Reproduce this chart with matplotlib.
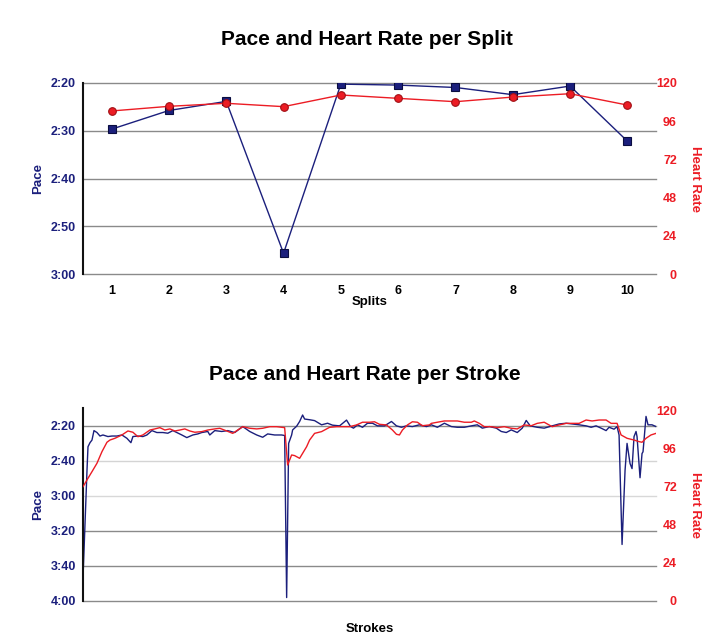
import matplotlib
matplotlib.use("Agg")
import matplotlib.pyplot as plt
from matplotlib.ticker import FuncFormatter

plt.rcParams["font.family"] = ["Liberation Sans", "DejaVu Sans"]
plt.rcParams["font.weight"] = "bold"

NAVY = "#1b1f7c"
RED = "#ec1c24"

# --- per split ---
splits = [1, 2, 3, 4, 5, 6, 7, 8, 9, 10]
split_pace = [149.7, 145.8, 143.9, 175.6, 140.3, 140.5, 141.0, 142.5, 140.7, 152.2]  # seconds / 500m
split_hr = [102.3, 105.2, 107.1, 105.0, 112.3, 110.2, 108.1, 111.0, 113.1, 106.0]

# --- per stroke ---
stroke_pace_idx = [
    0, 4, 5, 7, 9, 11, 14, 17, 20, 25, 29, 34, 39, 44, 48, 50, 55, 60, 64, 69,
    74, 80, 85, 90, 94, 99, 104, 110, 115, 119, 125, 127, 132, 139, 145, 152, 160, 167, 174, 180,
    185, 192, 199, 202, 204, 206, 209, 210, 214, 217, 220, 222, 227, 232, 239, 245, 250, 257, 264, 268,
    271, 275, 280, 285, 290, 295, 302, 309, 314, 319, 324, 330, 337, 344, 349, 355, 362, 369, 375, 382,
    389, 395, 400, 407, 414, 419, 424, 429, 435, 440, 444, 448, 455, 462, 470, 477, 484, 490, 497, 504,
    509, 514, 519, 524, 527, 532, 535, 537, 540, 543, 545, 548, 550, 552, 554, 555, 558, 560, 561, 564,
    566, 570, 574,
]
stroke_pace = [
    227.1, 165.6, 152.1, 149.8, 148.3, 142.9, 144.0, 146.0, 145.4, 146.3, 146.0, 146.0, 145.4, 147.3, 149.8, 146.3, 146.0, 146.3, 145.4, 142.9,
    144.0, 144.0, 144.4, 142.9, 144.0, 145.4, 146.9, 145.4, 144.8, 144.0, 143.4, 145.4, 142.9, 143.4, 142.9, 144.0, 140.6, 143.4, 145.4, 146.7,
    144.8, 145.4, 145.4, 145.7, 238.2, 150.2, 145.4, 142.5, 140.4, 137.7, 134.0, 136.3, 136.7, 137.2, 139.6, 138.7, 139.8, 140.2, 136.9, 140.6,
    141.5, 139.6, 141.0, 138.7, 138.7, 140.2, 140.2, 137.7, 140.2, 141.0, 140.2, 140.6, 139.6, 140.6, 139.6, 141.0, 138.7, 140.6, 141.0, 141.0,
    140.2, 139.6, 141.5, 140.6, 141.5, 143.4, 144.0, 142.5, 144.0, 141.5, 137.1, 140.2, 141.0, 141.5, 140.2, 139.1, 138.7, 139.1, 139.6, 140.2,
    141.0, 140.2, 141.5, 142.9, 141.0, 142.1, 140.6, 145.4, 207.9, 165.6, 150.2, 161.7, 164.6, 146.3, 143.4, 146.3, 169.8, 156.0, 155.0, 134.8,
    139.6, 139.6, 140.6,
]

stroke_hr_idx = [
    0, 4, 9, 14, 19, 24, 27, 32, 39, 45, 50, 55, 60, 67, 72, 77, 82, 87, 92, 97,
    102, 107, 112, 119, 125, 132, 137, 144, 150, 155, 160, 167, 174, 180, 187, 194, 202, 205, 209, 212,
    217, 224, 227, 232, 239, 247, 254, 260, 267, 274, 280, 287, 292, 297, 304, 310, 314, 317, 320, 325,
    330, 335, 340, 347, 349, 355, 362, 369, 375, 382, 389, 392, 397, 402, 409, 415, 422, 429, 435, 442,
    449, 455, 462, 470, 477, 484, 490, 497, 504, 510, 517, 524, 529, 535, 539, 545, 552, 557, 560, 564,
    569, 574,
]
stroke_hr = [
    71.7, 76.0, 81.2, 86.5, 93.8, 99.7, 101.1, 102.2, 104.3, 106.8, 106.0, 103.2, 104.3, 107.4, 108.1, 108.9, 107.4, 108.1, 106.8, 107.4,
    108.1, 106.8, 106.0, 106.4, 107.4, 108.1, 108.5, 106.8, 105.3, 107.4, 109.5, 108.5, 108.1, 108.5, 109.5, 109.5, 108.9, 85.4, 91.7, 91.3,
    89.6, 96.9, 101.1, 105.3, 106.4, 109.1, 109.5, 109.5, 109.5, 110.6, 112.3, 112.3, 112.6, 111.0, 110.6, 107.4, 104.7, 104.3, 107.4, 110.6,
    112.6, 112.3, 110.1, 110.6, 111.6, 112.3, 113.1, 113.1, 113.1, 112.3, 112.3, 113.1, 111.6, 109.5, 109.5, 108.9, 109.5, 108.5, 108.1, 110.6,
    110.1, 111.6, 112.3, 109.5, 110.6, 111.6, 111.6, 111.6, 113.7, 113.1, 113.7, 113.7, 111.6, 111.6, 104.3, 102.2, 101.1, 100.1, 99.7, 102.2,
    104.3, 105.3,
]

hr_ticks = [0, 24, 48, 72, 96, 120]
split_pace_ticks = [140, 150, 160, 170, 180]
stroke_pace_ticks = [140, 160, 180, 200, 220, 240]
stroke_grid_colors = ["#8a8a8a", "#d4d4d4", "#d8d8d8", "#8a8a8a", "#8a8a8a", "#8a8a8a"]


def fmt_pace(v, _pos=None):
    v = int(round(v))
    return f"{v // 60}:{v % 60:02d}"


def style_axes(ax, ax2, pace_ticks, pace_lim, grid_colors):
    ax.set_ylim(*pace_lim)
    ax.set_yticks(pace_ticks)
    ax.yaxis.set_major_formatter(FuncFormatter(fmt_pace))
    for t, c in zip(pace_ticks, grid_colors):
        ax.axhline(t, color=c, lw=1.0, zorder=0, clip_on=False)
    for side in ["top", "right", "bottom"]:
        ax.spines[side].set_visible(False)
        ax2.spines[side].set_visible(False)
    ax2.spines["left"].set_visible(False)
    ax.spines["left"].set_linewidth(1.5)
    ax.spines["left"].set_color("#111111")
    ax.tick_params(axis="y", length=0, pad=5, labelsize=9, labelcolor=NAVY)
    ax.tick_params(axis="x", length=0)
    ax2.set_ylim(0, 120)
    ax2.set_yticks(hr_ticks)
    ax2.tick_params(axis="y", length=0, pad=15, labelsize=9, labelcolor=RED)
    for lab in ax2.get_yticklabels():
        lab.set_horizontalalignment("right")


fig = plt.figure(figsize=(7.25, 6.4), dpi=100)
W, H = 725, 640

# top chart
ax1 = fig.add_axes([83 / W, 1 - 274.3 / H, 573 / W, 191.6 / H])
ax1b = ax1.twinx()
ax1.plot(splits, split_pace, color=NAVY, lw=1.0, marker="s", ms=5.5,
         mfc=NAVY, mec="#0a0d40", mew=0.8, zorder=3)
ax1b.plot(splits, split_hr, color=RED, lw=1.0, marker="o", ms=5.5,
          mfc=RED, mec="#a01015", mew=0.8)
ax1.set_xlim(0.5, 10.5)
ax1.set_xticks(splits)
ax1.tick_params(axis="x", pad=8, labelsize=9, labelcolor="black")
style_axes(ax1, ax1b, split_pace_ticks, (180, 140), ["#8a8a8a"] * 5)

fig.text(366.5 / W, 1 - 45 / H, "Pace and Heart Rate per Split",
         ha="center", va="baseline", fontsize=15, fontweight="bold")
fig.text(370 / W, 1 - 305 / H, "Splits", ha="center", va="baseline", fontsize=9.5)
fig.text(38 / W, 1 - 178.5 / H, "Pace", rotation=90, ha="center", va="center",
         fontsize=9.5, color=NAVY)
fig.text(695 / W, 1 - 178.5 / H, "Heart Rate", rotation=-90, ha="center", va="center",
         fontsize=9.5, color=RED)

# bottom chart
ax2 = fig.add_axes([83 / W, 1 - 600.7 / H, 573 / W, 192.7 / H])
ax2b = ax2.twinx()
ax2.plot(stroke_pace_idx, stroke_pace, color=NAVY, lw=1.0)
ax2b.plot(stroke_hr_idx, stroke_hr, color=RED, lw=1.0)
ax2.set_xlim(0, 574)
ax2.set_xticks([])
style_axes(ax2, ax2b, stroke_pace_ticks, (240, 130), stroke_grid_colors)
ax2b.set_ylim(0, 120 * 192.7 / 190.7)

fig.text(365 / W, 1 - 380.5 / H, "Pace and Heart Rate per Stroke",
         ha="center", va="baseline", fontsize=15, fontweight="bold")
fig.text(370 / W, 1 - 631.5 / H, "Strokes", ha="center", va="baseline", fontsize=9.5)
fig.text(38 / W, 1 - 505 / H, "Pace", rotation=90, ha="center", va="center",
         fontsize=9.5, color=NAVY)
fig.text(695 / W, 1 - 505 / H, "Heart Rate", rotation=-90, ha="center", va="center",
         fontsize=9.5, color=RED)

fig.savefig("out.png", dpi=100)
plt.close(fig)
